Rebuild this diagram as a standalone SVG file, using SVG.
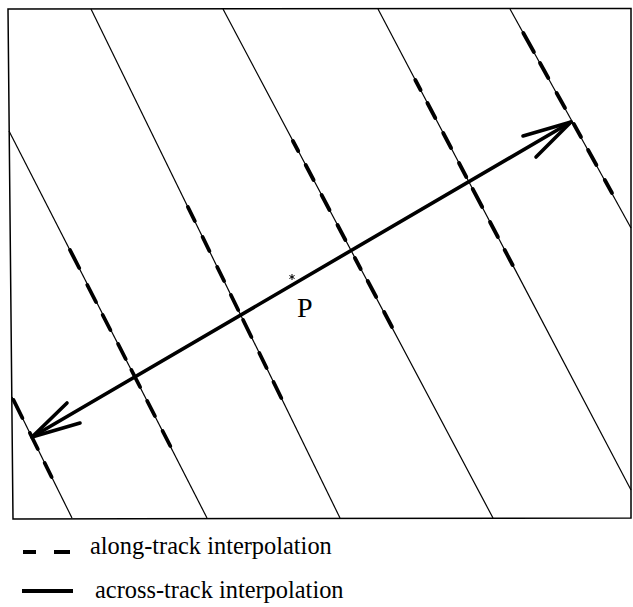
<svg xmlns="http://www.w3.org/2000/svg" width="633" height="607" viewBox="0 0 633 607">
<style>
  .frame{fill:none;stroke:#000;stroke-width:1.5}
  .track{fill:none;stroke:#000;stroke-width:1.2}
  .dash{fill:none;stroke:#000;stroke-width:3.8;stroke-linecap:round}
  .arrow{fill:none;stroke:#000;stroke-width:3.6;stroke-linecap:round;stroke-linejoin:round}
  .lbl{font-family:"Liberation Serif","Times New Roman",serif;fill:#000}
  .leg{font-family:"Liberation Serif","Times New Roman",serif;font-size:24.4px;fill:#000}
</style>
<rect x="0" y="0" width="633" height="607" fill="#fff"/>
<g id="frame">
  <polygon class="frame" points="8,9 631,8.5 631,518 13,519"/>
</g>
<g id="tracks">
  <line class="track" x1="12" y1="397" x2="72" y2="518"/>
  <line class="track" x1="9" y1="131" x2="207" y2="518"/>
  <line class="track" x1="91" y1="9" x2="340" y2="518"/>
  <line class="track" x1="223" y1="9" x2="493" y2="518"/>
  <line class="track" x1="378" y1="9" x2="631" y2="490"/>
  <line class="track" x1="510" y1="9" x2="631" y2="228"/>
</g>
<g id="along-track-dashes">
  <line class="dash" x1="13.5" y1="400" x2="22.4" y2="418"/>
  <line class="dash" x1="29.9" y1="433" x2="37.8" y2="449"/>
  <line class="dash" x1="44.7" y1="463" x2="51.6" y2="477"/>
  <line class="dash" x1="70.0" y1="250" x2="79.2" y2="268"/>
  <line class="dash" x1="87.3" y1="285" x2="96.0" y2="302"/>
  <line class="dash" x1="102.7" y1="315" x2="110.4" y2="330"/>
  <line class="dash" x1="118.1" y1="344" x2="125.7" y2="359"/>
  <line class="dash" x1="131.4" y1="370" x2="140.1" y2="387"/>
  <line class="dash" x1="147.2" y1="401" x2="154.9" y2="416"/>
  <line class="dash" x1="162.6" y1="431" x2="170.3" y2="446"/>
  <line class="dash" x1="187.9" y1="207" x2="194.8" y2="221"/>
  <line class="dash" x1="202.6" y1="237" x2="209.4" y2="251"/>
  <line class="dash" x1="217.2" y1="267" x2="224.1" y2="281"/>
  <line class="dash" x1="230.9" y1="295" x2="238.2" y2="310"/>
  <line class="dash" x1="243.1" y1="320" x2="251.4" y2="337"/>
  <line class="dash" x1="259.3" y1="353" x2="266.6" y2="368"/>
  <line class="dash" x1="273.5" y1="382" x2="281.3" y2="398"/>
  <line class="dash" x1="292.9" y1="141" x2="298.2" y2="151"/>
  <line class="dash" x1="305.7" y1="165" x2="313.6" y2="180"/>
  <line class="dash" x1="321.6" y1="195" x2="329.5" y2="210"/>
  <line class="dash" x1="337.5" y1="225" x2="345.4" y2="240"/>
  <line class="dash" x1="354.9" y1="258" x2="360.7" y2="269"/>
  <line class="dash" x1="367.7" y1="281" x2="376.2" y2="297"/>
  <line class="dash" x1="384.1" y1="312" x2="392.0" y2="327"/>
  <line class="dash" x1="415.3" y1="80" x2="420.6" y2="90"/>
  <line class="dash" x1="427.4" y1="103" x2="435.3" y2="118"/>
  <line class="dash" x1="443.2" y1="133" x2="451.1" y2="148"/>
  <line class="dash" x1="459.0" y1="163" x2="466.3" y2="177"/>
  <line class="dash" x1="472.7" y1="189" x2="482.2" y2="207"/>
  <line class="dash" x1="490.0" y1="222" x2="497.9" y2="237"/>
  <line class="dash" x1="504.7" y1="250" x2="512.6" y2="265"/>
  <line class="dash" x1="523.3" y1="33" x2="533.9" y2="52"/>
  <line class="dash" x1="540.0" y1="63" x2="548.3" y2="78"/>
  <line class="dash" x1="556.6" y1="93" x2="565.0" y2="108"/>
  <line class="dash" x1="573.8" y1="124" x2="581.0" y2="137"/>
  <line class="dash" x1="588.1" y1="150" x2="596.4" y2="165"/>
  <line class="dash" x1="604.8" y1="180" x2="612.0" y2="193"/>
</g>
<g id="connectors">
  <line class="arrow" x1="32" y1="437" x2="571" y2="122"/>
  <polyline class="arrow" points="523,136 571,122 536,157"/>
  <polyline class="arrow" points="67,403 32,437 80,423"/>
</g>
<g id="point-P">
  <path d="M292,274 V280 M289.4,275.5 L294.6,278.5 M289.4,278.5 L294.6,275.5" stroke="#000" stroke-width="1" fill="none"/>
  <text class="lbl" x="297" y="317" font-size="28">P</text>
</g>
<g id="legend">
  <line x1="23" y1="552" x2="36" y2="552" stroke="#000" stroke-width="4"/>
  <line x1="54" y1="552" x2="70" y2="552" stroke="#000" stroke-width="4"/>
  <text class="leg" x="90" y="554">along-track interpolation</text>
  <line x1="22" y1="591" x2="73" y2="591" stroke="#000" stroke-width="4"/>
  <text class="leg" x="95" y="598">across-track interpolation</text>
</g>
</svg>
